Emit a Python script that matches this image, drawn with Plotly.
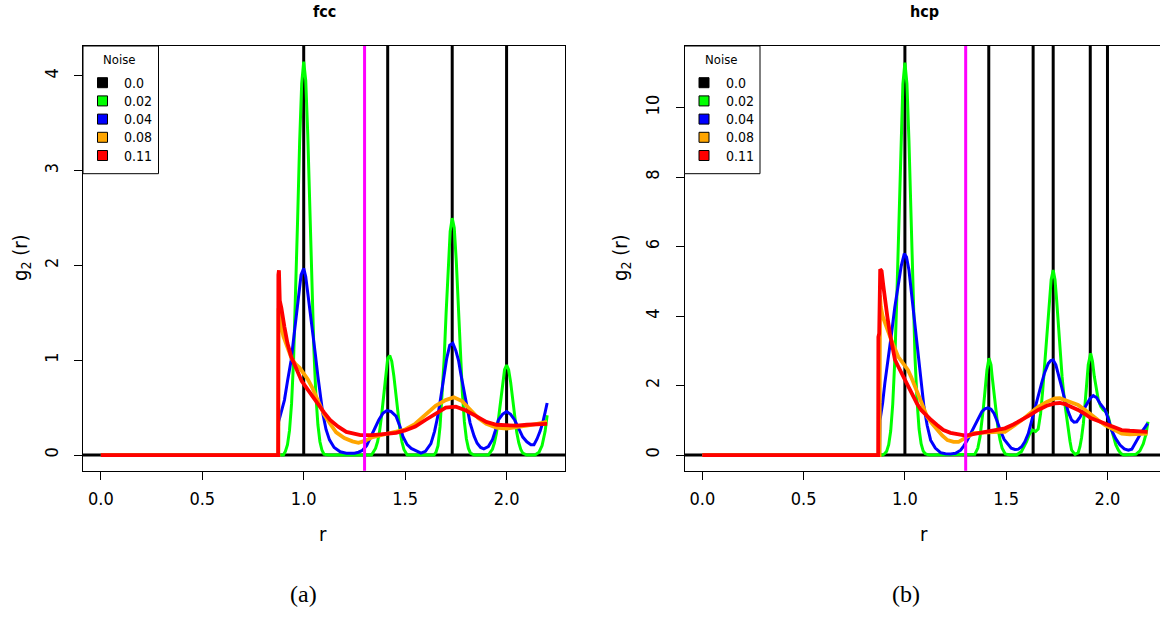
import plotly.graph_objects as go

W, H = 1160, 617
SANS = "Liberation Sans Narrow, Arial Narrow, DejaVu Sans Condensed, Liberation Sans, Arial, sans-serif"
SERIF = "Liberation Serif, Times New Roman, serif"

# ---------------------------------------------------------------- data
noise_levels = ["0.0", "0.02", "0.04", "0.08", "0.11"]
noise_colors = ["#000000", "#00FF00", "#0000FF", "#FFA500", "#FF0000"]

cutoff_r = 1.3          # neighbour cutoff marked in magenta
ideal_spike = 60.0      # delta peaks of the perfect lattice leave the frame

fcc_shells = [1.0, 1.414, 1.732, 2.0]
hcp_shells = [1.0, 1.414, 1.633, 1.732, 1.915, 2.0]

# fcc, noise 0.02
fcc_green_r = [0.0, 0.875, 0.90, 0.91, 0.92, 0.93, 0.94, 0.95, 0.96, 0.97, 0.98, 0.99, 1.0,
               1.01, 1.02, 1.03, 1.04, 1.05, 1.06, 1.07, 1.08, 1.09, 1.10, 1.12,
               1.334, 1.344, 1.354, 1.364, 1.374, 1.384, 1.394, 1.404, 1.414, 1.424, 1.434,
               1.444, 1.454, 1.464, 1.474, 1.484, 1.494, 1.51,
               1.642, 1.652, 1.662, 1.672, 1.682, 1.692, 1.702, 1.712, 1.722, 1.732, 1.742,
               1.752, 1.762, 1.772, 1.782, 1.792, 1.802, 1.812, 1.822, 1.84,
               1.91, 1.92, 1.93, 1.94, 1.95, 1.96, 1.97, 1.98, 1.99, 2.0, 2.01, 2.02, 2.03,
               2.04, 2.05, 2.06, 2.07, 2.08, 2.10,
               2.14, 2.16, 2.175, 2.19, 2.2]
fcc_green_g = [0, 0, 0.0, 0.04, 0.11, 0.26, 0.54, 1.0, 1.66, 2.49, 3.31, 3.92, 4.15,
               3.95, 3.38, 2.6, 1.8, 1.12, 0.63, 0.32, 0.14, 0.05, 0.01, 0,
               0.0, 0.03, 0.07, 0.14, 0.25, 0.42, 0.63, 0.86, 1.02, 1.05, 0.99,
               0.84, 0.64, 0.44, 0.27, 0.14, 0.06, 0.0,
               0.0, 0.03, 0.1, 0.3, 0.6, 1.0, 1.5, 1.99, 2.36, 2.5, 2.4,
               2.05, 1.58, 1.08, 0.66, 0.35, 0.17, 0.07, 0.02, 0,
               0.0, 0.03, 0.06, 0.13, 0.23, 0.38, 0.57, 0.76, 0.9, 0.95, 0.9, 0.77, 0.58,
               0.39, 0.24, 0.13, 0.06, 0.02, 0,
               0.0, 0.03, 0.1, 0.25, 0.42]

# fcc, noise 0.04
fcc_blue_r = [0.0, 0.875, 0.876, 0.89, 0.905, 0.92, 0.938, 0.95, 0.962, 0.975, 0.987, 1.0, 1.01,
              1.02, 1.032, 1.044, 1.057, 1.07, 1.082, 1.094, 1.11, 1.127, 1.15, 1.18, 1.21,
              1.25, 1.27, 1.29, 1.31, 1.33, 1.35, 1.37, 1.39, 1.41, 1.43, 1.455, 1.475,
              1.49, 1.51, 1.53, 1.55, 1.578, 1.6, 1.627, 1.645, 1.66, 1.675, 1.69, 1.705,
              1.72, 1.735, 1.75, 1.763, 1.775, 1.788, 1.805, 1.82, 1.84, 1.855, 1.872,
              1.888, 1.91, 1.93, 1.945, 1.96, 1.98, 2.0, 2.02, 2.04, 2.06, 2.08, 2.1,
              2.12, 2.135, 2.15, 2.165, 2.178, 2.19, 2.2]
fcc_blue_g = [0, 0, 0.35, 0.45, 0.58, 0.78, 1.0, 1.22, 1.46, 1.7, 1.9, 1.97, 1.88,
              1.71, 1.52, 1.32, 1.07, 0.83, 0.62, 0.44, 0.27, 0.16, 0.08, 0.035, 0.02,
              0.02, 0.03, 0.05, 0.1, 0.19, 0.28, 0.37, 0.44, 0.47, 0.46, 0.41, 0.3,
              0.19, 0.11, 0.07, 0.05, 0.02, 0.04, 0.12, 0.25, 0.4, 0.6, 0.83, 1.02,
              1.16, 1.18, 1.1, 1.0, 0.85, 0.69, 0.5, 0.34, 0.2, 0.125, 0.08,
              0.065, 0.09, 0.16, 0.26, 0.37, 0.43, 0.46, 0.43, 0.37, 0.28, 0.19, 0.14,
              0.11, 0.11, 0.17, 0.25, 0.34, 0.45, 0.55]

# fcc, noise 0.08
fcc_orange_r = [0.0, 0.875, 0.876, 0.885, 0.9, 0.92, 0.94, 0.96, 0.98, 1.0, 1.02, 1.04, 1.06,
                1.08, 1.1, 1.13, 1.16, 1.2, 1.24, 1.27, 1.3, 1.34, 1.4, 1.45, 1.5, 1.55,
                1.6, 1.65, 1.7, 1.74, 1.78, 1.82, 1.86, 1.9, 1.95, 2.0, 2.05, 2.1, 2.15, 2.2]
fcc_orange_g = [0, 0, 1.55, 1.4, 1.25, 1.12, 1.02, 0.96, 0.92, 0.86, 0.8, 0.72, 0.62,
                0.52, 0.43, 0.33, 0.24, 0.18, 0.145, 0.13, 0.15, 0.19, 0.22, 0.24, 0.27, 0.33,
                0.42, 0.52, 0.58, 0.61, 0.57, 0.48, 0.39, 0.33, 0.29, 0.28, 0.29, 0.31, 0.33, 0.35]

# fcc, noise 0.11
fcc_red_r = [0.0, 0.874, 0.875, 0.878, 0.882, 0.89, 0.905, 0.92, 0.938, 0.955, 0.97, 0.99, 1.02,
             1.045, 1.07, 1.1, 1.13, 1.17, 1.21, 1.25, 1.28, 1.34, 1.4, 1.455, 1.5, 1.55,
             1.6, 1.65, 1.7, 1.75, 1.8, 1.85, 1.9, 1.95, 2.0, 2.05, 2.1, 2.15, 2.2]
fcc_red_g = [0, 0, 1.9, 1.95, 1.63, 1.55, 1.35, 1.18, 1.04, 0.95, 0.88, 0.78, 0.69,
             0.61, 0.545, 0.45, 0.37, 0.3, 0.245, 0.22, 0.21, 0.21, 0.22, 0.235, 0.26, 0.3,
             0.37, 0.44, 0.5, 0.51, 0.47, 0.41, 0.35, 0.32, 0.31, 0.31, 0.32, 0.33, 0.33]

# hcp, noise 0.02
hcp_green_r = [0.0, 0.875, 0.89, 0.90, 0.91, 0.92, 0.93, 0.94, 0.95, 0.96, 0.97, 0.98, 0.99, 1.0,
               1.01, 1.02, 1.03, 1.04, 1.05, 1.06, 1.07, 1.08, 1.09, 1.10, 1.12,
               1.345, 1.36, 1.371, 1.38, 1.388, 1.397, 1.405, 1.415, 1.425, 1.43, 1.44,
               1.449, 1.46, 1.47, 1.48, 1.495, 1.52,
               1.55, 1.575, 1.6, 1.615, 1.63, 1.645, 1.658, 1.67, 1.68, 1.691, 1.702, 1.713,
               1.722, 1.732, 1.741, 1.749, 1.757, 1.765, 1.776, 1.787, 1.797, 1.807, 1.815,
               1.823, 1.84, 1.855, 1.864, 1.872, 1.881, 1.889, 1.897, 1.905, 1.917, 1.926,
               1.935, 1.945, 1.955, 1.967, 1.979, 1.992, 2.004, 2.016, 2.029, 2.041, 2.054,
               2.067, 2.08, 2.12, 2.14, 2.16, 2.177, 2.19, 2.2]
hcp_green_g = [0, 0, 0.0, 0.04, 0.11, 0.3, 0.7, 1.47, 2.71, 4.52, 6.78, 9.0, 10.68, 11.3,
               10.7, 9.05, 6.85, 4.6, 2.8, 1.55, 0.75, 0.33, 0.12, 0.04, 0,
               0.02, 0.2, 0.53, 0.95, 1.39, 1.95, 2.45, 2.79, 2.6, 2.3, 1.75,
               1.2, 0.75, 0.43, 0.2, 0.03, 0,
               0.0, 0.1, 0.38, 0.6, 0.72, 0.68, 0.75, 1.2, 1.85, 2.74, 3.7, 4.47,
               5.05, 5.33, 5.05, 4.47, 3.75, 3.03, 2.25, 1.58, 1.1, 0.72, 0.4,
               0.14, 0.02, 0.06, 0.24, 0.5, 0.91, 1.45, 2.07, 2.6, 2.93, 2.7,
               2.26, 1.85, 1.58, 1.4, 1.3, 1.25, 1.1, 0.82, 0.53, 0.3, 0.14,
               0.04, 0.0, 0.0, 0.02, 0.12, 0.33, 0.6, 0.96]

# hcp, noise 0.04
hcp_blue_r = [0.0, 0.875, 0.877, 0.89, 0.901, 0.918, 0.934, 0.95, 0.967, 0.982, 0.997, 1.008,
              1.02, 1.032, 1.045, 1.058, 1.07, 1.082, 1.094, 1.11, 1.127, 1.15, 1.176, 1.2,
              1.226, 1.25, 1.275, 1.29, 1.308, 1.33, 1.35, 1.365, 1.38, 1.395, 1.41, 1.425,
              1.44, 1.455, 1.47, 1.49, 1.51, 1.525, 1.543, 1.56, 1.576, 1.592, 1.609, 1.625,
              1.642, 1.658, 1.675, 1.69, 1.708, 1.72, 1.732, 1.745, 1.757, 1.773, 1.79,
              1.806, 1.823, 1.835, 1.848, 1.865, 1.881, 1.897, 1.914, 1.93, 1.947, 1.963,
              1.975, 1.988, 2.004, 2.02, 2.04, 2.062, 2.083, 2.103, 2.12, 2.136, 2.152,
              2.169, 2.185, 2.198]
hcp_blue_g = [0, 0, 1.0, 1.5, 2.07, 2.75, 3.5, 4.25, 4.95, 5.45, 5.8, 5.7,
              5.33, 4.7, 3.99, 3.25, 2.55, 1.95, 1.39, 0.85, 0.43, 0.2, 0.07, 0.04,
              0.03, 0.05, 0.14, 0.26, 0.43, 0.68, 0.92, 1.1, 1.25, 1.33, 1.36, 1.32,
              1.2, 0.98, 0.72, 0.45, 0.3, 0.2, 0.16, 0.17, 0.24, 0.38, 0.62, 0.98,
              1.39, 1.75, 2.07, 2.38, 2.64, 2.72, 2.74, 2.6, 2.35, 1.98, 1.58,
              1.25, 1.01, 0.95, 0.96, 1.1, 1.3, 1.48, 1.63, 1.71, 1.65, 1.49,
              1.4, 1.3, 1.05, 0.72, 0.48, 0.29, 0.18, 0.14, 0.17, 0.34, 0.5,
              0.67, 0.8, 0.91]

# hcp, noise 0.08
hcp_orange_r = [0.0, 0.875, 0.877, 0.881, 0.89, 0.901, 0.918, 0.934, 0.95, 0.967, 0.984, 1.0,
                1.015, 1.03, 1.05, 1.07, 1.09, 1.11, 1.135, 1.16, 1.185, 1.21, 1.24, 1.265,
                1.29, 1.315, 1.34, 1.38, 1.42, 1.46, 1.494, 1.535, 1.576, 1.617, 1.658, 1.7,
                1.74, 1.765, 1.79, 1.82, 1.855, 1.89, 1.92, 1.955, 1.988, 2.03, 2.07, 2.11,
                2.15, 2.198]
hcp_orange_g = [0, 0, 4.6, 4.27, 4.0, 3.8, 3.55, 3.3, 3.05, 2.83, 2.7, 2.59,
                2.45, 2.26, 1.98, 1.68, 1.38, 1.1, 0.9, 0.72, 0.56, 0.43, 0.38, 0.38,
                0.45, 0.55, 0.63, 0.65, 0.65, 0.67, 0.67, 0.82, 1.0, 1.2, 1.39, 1.53,
                1.63, 1.64, 1.58, 1.52, 1.44, 1.3, 1.15, 1.0, 0.86, 0.74, 0.62, 0.6,
                0.6, 0.62]

# hcp, noise 0.11
hcp_red_r = [0.0, 0.868, 0.869, 0.873, 0.878, 0.885, 0.893, 0.901, 0.913, 0.926, 0.938, 0.951,
             0.967, 0.984, 1.008, 1.025, 1.04, 1.06, 1.08, 1.105, 1.13, 1.16, 1.19, 1.225,
             1.26, 1.3, 1.35, 1.4, 1.45, 1.494, 1.535, 1.576, 1.617, 1.658, 1.7, 1.74,
             1.765, 1.79, 1.82, 1.855, 1.89, 1.92, 1.955, 1.988, 2.03, 2.07, 2.11, 2.15, 2.198]
hcp_red_g = [0, 0, 3.4, 3.5, 5.35, 5.3, 4.9, 4.47, 4.0, 3.5, 3.1, 2.74,
             2.55, 2.35, 2.07, 1.88, 1.68, 1.48, 1.3, 1.15, 1.01, 0.86, 0.72, 0.64,
             0.6, 0.56, 0.62, 0.68, 0.72, 0.77, 0.88, 1.0, 1.15, 1.3, 1.42, 1.49,
             1.5, 1.47, 1.4, 1.3, 1.18, 1.06, 0.98, 0.91, 0.82, 0.72, 0.7, 0.68, 0.67]

panels = [
    dict(name="fcc", caption="(a)", shells=fcc_shells,
         curves=[(fcc_green_r, fcc_green_g), (fcc_blue_r, fcc_blue_g),
                 (fcc_orange_r, fcc_orange_g), (fcc_red_r, fcc_red_g)],
         yticks=[0, 1, 2, 3, 4], yrange=[-0.166, 4.316]),
    dict(name="hcp", caption="(b)", shells=hcp_shells,
         curves=[(hcp_green_r, hcp_green_g), (hcp_blue_r, hcp_blue_g),
                 (hcp_orange_r, hcp_orange_g), (hcp_red_r, hcp_red_g)],
         yticks=[0, 2, 4, 6, 8, 10], yrange=[-0.453, 11.78]),
]

# ---------------------------------------------------------------- layout geometry (pixels)
box_top, box_bottom = 46, 470.8
x_domains = [(83, 565), (684.5, 1160)]
x_ranges = [[-0.088, 2.288], [-0.088, (1160 - 702.5) / 202.5]]
panel_centres = [324, 924]
axis_title_x = [323, 924]
ylabel_x = [21, 621]
caption_x = [303, 906]
legend_w = 75.5          # legend box width
legend_h = 127.7         # legend box height
legend_row0, legend_step = 82.7, 18.2


def px(x):
    return x / W


def py(y):
    return 1 - y / H


def note(text, x, y, size, family=SANS, angle=0):
    fig.add_annotation(text=text, x=px(x), y=py(y), xref="paper", yref="paper",
                       xanchor="center", yanchor="middle", showarrow=False,
                       textangle=angle, font=dict(family=family, size=size, color="black"))


fig = go.Figure()

for i, p in enumerate(panels):
    xa = "x" if i == 0 else "x2"
    ya = "y" if i == 0 else "y2"

    # noise-free lattice: delta peaks at each neighbour shell
    sx, sy = [], []
    for s in p["shells"]:
        sx += [s, s, None]
        sy += [0, ideal_spike, None]
    fig.add_trace(go.Scatter(x=sx, y=sy, mode="lines", xaxis=xa, yaxis=ya,
                             line=dict(color=noise_colors[0], width=3),
                             showlegend=False, hoverinfo="skip"))

    for (r, g), col, lab in zip(p["curves"], noise_colors[1:], noise_levels[1:]):
        assert len(r) == len(g)
        wid = 3.8 if col in ("#FFA500", "#FF0000") else 3
        fig.add_trace(go.Scatter(x=r, y=g, mode="lines", xaxis=xa, yaxis=ya, name=lab,
                                 line=dict(color=col, width=wid), showlegend=False))

    # baseline and cutoff
    fig.add_shape(type="line", xref=f"{xa} domain", yref=ya, x0=0, x1=1, y0=0, y1=0,
                  line=dict(color="black", width=3), layer="below")
    fig.add_shape(type="line", xref=xa, yref=f"{ya} domain", x0=cutoff_r, x1=cutoff_r,
                  y0=0, y1=1, line=dict(color="#FF00FF", width=3), layer="above")

    # legend box in the upper-left corner of the frame
    lx = x_domains[i][0]
    fig.add_shape(type="rect", xref="paper", yref="paper",
                  x0=px(lx), x1=px(lx + legend_w), y0=py(box_top), y1=py(box_top + legend_h),
                  line=dict(color="black", width=1), fillcolor="white", layer="above")
    note("Noise", lx + 36, box_top + 14, 13)
    for k, (lab, col) in enumerate(zip(noise_levels, noise_colors)):
        cy = legend_row0 + k * legend_step
        fig.add_shape(type="rect", xref="paper", yref="paper",
                      x0=px(lx + 14.5), x1=px(lx + 24.5), y0=py(cy - 5), y1=py(cy + 5),
                      line=dict(color="black", width=1), fillcolor=col, layer="above")
        fig.add_annotation(text=lab, x=px(lx + 39), y=py(cy), xref="paper", yref="paper",
                           xanchor="left", yanchor="middle", showarrow=False,
                           font=dict(family=SANS, size=14, color="black"))

    # titles and labels
    note(f"<b>{p['name']}</b>", panel_centres[i], 12, 16)
    note("r", axis_title_x[i], 534, 20)
    note("g<sub>2</sub> (r)", ylabel_x[i], 258, 20, angle=-90)
    note(p["caption"], caption_x[i], 594, 24, family=SERIF)

axis_common = dict(showgrid=False, zeroline=False, showline=True, linecolor="black",
                   linewidth=1, ticks="outside", ticklen=8, tickcolor="black", tickwidth=1,
                   tickfont=dict(family=SANS, size=18, color="black"))
ydom = [py(box_bottom), py(box_top)]
xticks = [0, 0.5, 1, 1.5, 2]
xtick_text = ["0.0", "0.5", "1.0", "1.5", "2.0"]

fig.update_layout(
    width=W, height=H, margin=dict(l=0, r=0, t=0, b=0),
    paper_bgcolor="white", plot_bgcolor="white", showlegend=False,
    xaxis=dict(domain=[px(x_domains[0][0]), px(x_domains[0][1])], range=x_ranges[0],
               anchor="y", mirror=True, tickvals=xticks, ticktext=xtick_text,
               ticklabelstandoff=4, **axis_common),
    yaxis=dict(domain=ydom, range=panels[0]["yrange"], anchor="x", mirror=True,
               tickvals=panels[0]["yticks"], tickangle=-90, ticklabelstandoff=9, **axis_common),
    xaxis2=dict(domain=[px(x_domains[1][0]), 1.0], range=x_ranges[1], anchor="y2",
                mirror=True, tickvals=xticks, ticktext=xtick_text,
                ticklabelstandoff=4, **axis_common),
    yaxis2=dict(domain=ydom, range=panels[1]["yrange"], anchor="x2", mirror=False,
                tickvals=panels[1]["yticks"], tickangle=-90, ticklabelstandoff=9, **axis_common),
)

fig.write_html("out.html")
